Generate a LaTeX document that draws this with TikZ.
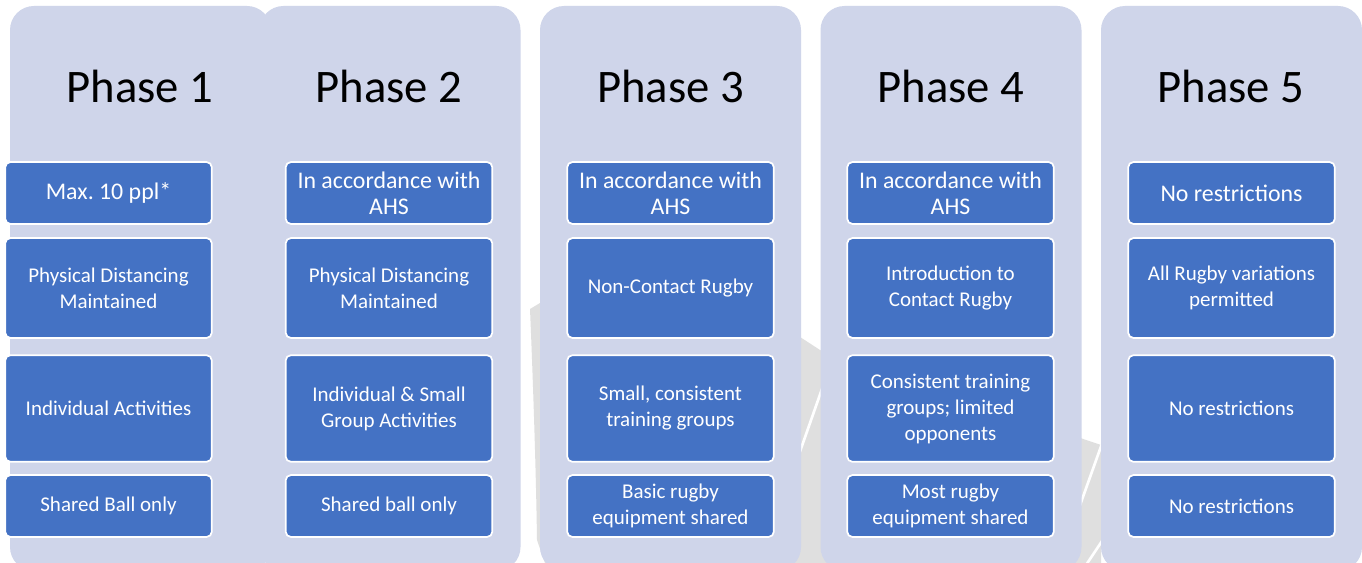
\documentclass[tikz,border=0pt]{standalone}
\usepackage{fontspec}
\setmainfont{Carlito}
\usepackage{tikz}
\frenchspacing

\definecolor{panelbg}{HTML}{CFD5EA}
\definecolor{boxblue}{HTML}{4472C4}
\definecolor{markgray}{HTML}{DFDFDF}

\tikzset{
  panel/.style={fill=panelbg, rounded corners=18pt},
  phasetitle/.style={anchor=base, font=\fontsize{35}{42}\selectfont},
  stepbox/.style={draw=white, line width=1.3pt, fill=boxblue, rounded corners=4pt,
    text=white, align=center, minimum width=155pt, inner sep=2pt,
    font=\fontsize{15.75}{19.5}\selectfont},
  rowa/.style={stepbox, minimum height=46.5pt, font=\fontsize{17.9}{19.5}\selectfont},
  rowb/.style={stepbox, minimum height=75pt},
  rowc/.style={stepbox, minimum height=80pt},
  rowd/.style={stepbox, minimum height=46.5pt}
}

\begin{document}
\begin{tikzpicture}[x=0.75pt, y=-0.75pt]
    \clip (0,0) rectangle (1362,563);
    \fill[white] (0,0) rectangle (1362,563);
    % faint logo behind the panels
    \fill[markgray] (545,300) -- (530,309) .. controls (533,380) and (536,470) .. (537,540)
      -- (545,563) -- (1101,563) -- (1101,445) -- (820,350) -- (800,337) -- cycle;
    \draw[white, line width=2pt] (823,386) -- (797,460);
    \draw[white, line width=2pt] (1104,438) -- (1079,508);
    \draw[white, line width=2pt] (1104,538) -- (1084,568);
    % panels and titles
    \foreach \i/\xl/\xc in {1/10/140, 2/259.5/389, 3/540/670.5, 4/820.5/951, 5/1101/1231}
    {
      \fill[panel] (\xl,6) rectangle ++(261,565);
      \node[phasetitle] (t\i) at (\xc,103) {Phase \i};
    }

    % Phase 1
    \node[rowa] (p1a) at (108.5,193) {Max. 10 ppl*};
    \node[rowb] (p1b) at (108.5,288) {Physical Distancing\\Maintained};
    \node[rowc] (p1c) at (108.5,408.5) {Individual Activities};
    \node[rowd] (p1d) at (108.5,506) {Shared Ball only};

    % Phase 2
    \node[rowa] (p2a) at (389,193) {In accordance with\\AHS};
    \node[rowb] (p2b) at (389,288) {Physical Distancing\\Maintained};
    \node[rowc] (p2c) at (389,408.5) {Individual \& Small\\Group Activities};
    \node[rowd] (p2d) at (389,506) {Shared ball only};

    % Phase 3
    \node[rowa] (p3a) at (670.5,193) {In accordance with\\AHS};
    \node[rowb] (p3b) at (670.5,288) {Non-Contact Rugby};
    \node[rowc] (p3c) at (670.5,408.5) {Small, consistent\\training groups};
    \node[rowd] (p3d) at (670.5,506) {Basic rugby\\equipment shared};

    % Phase 4
    \node[rowa] (p4a) at (950.5,193) {In accordance with\\AHS};
    \node[rowb] (p4b) at (950.5,288) {Introduction to\\Contact Rugby};
    \node[rowc] (p4c) at (950.5,408.5) {Consistent training\\groups; limited\\opponents};
    \node[rowd] (p4d) at (950.5,506) {Most rugby\\equipment shared};

    % Phase 5
    \node[rowa] (p5a) at (1231.5,193) {No restrictions};
    \node[rowb] (p5b) at (1231.5,288) {All Rugby variations\\permitted};
    \node[rowc] (p5c) at (1231.5,408.5) {No restrictions};
    \node[rowd] (p5d) at (1231.5,506) {No restrictions};
  \end{tikzpicture}
\end{document}
